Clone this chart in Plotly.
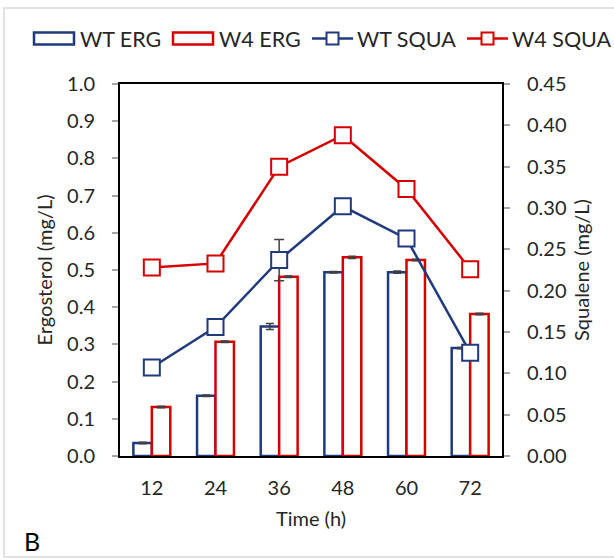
import plotly.graph_objects as go

# Sampling times (h)
times = ["12", "24", "36", "48", "60", "72"]

# Ergosterol titres (mg/L), left axis
wt_erg = [0.035, 0.162, 0.348, 0.494, 0.494, 0.290]
w4_erg = [0.132, 0.307, 0.482, 0.534, 0.527, 0.382]
wt_erg_err = [0.002, 0.002, 0.008, 0.002, 0.003, 0.002]
w4_erg_err = [0.002, 0.002, 0.002, 0.003, 0.002, 0.002]

# Squalene titres (mg/L), right axis
wt_squa = [0.107, 0.156, 0.237, 0.302, 0.263, 0.125]
w4_squa = [0.228, 0.233, 0.350, 0.388, 0.323, 0.226]
wt_squa_err = [0, 0, 0.025, 0, 0, 0]

left_ticks = [0.0, 0.1, 0.2, 0.3, 0.4, 0.5, 0.6, 0.7, 0.8, 0.9, 1.0]
right_ticks = [0.0, 0.05, 0.10, 0.15, 0.20, 0.25, 0.30, 0.35, 0.40, 0.45]

NAVY = "#1F3A7D"
RED = "#D60000"
ERR = "#404040"
FONT = "Lato"
TXT = "#262626"

# plot-area geometry in pixels, used to place the legend and frame in paper space
L, R, T, B = 120, 502, 84, 456


def px(x):
    return (x - L) / (R - L)


def py(y):
    return (B - y) / (B - T)


fig = go.Figure()

fig.add_trace(go.Bar(
    x=times, y=wt_erg, name="WT ERG",
    marker=dict(color="white", line=dict(color=NAVY, width=2.5)),
    error_y=dict(type="data", array=wt_erg_err, color=ERR, thickness=1.5, width=4),
))
fig.add_trace(go.Bar(
    x=times, y=w4_erg, name="W4 ERG",
    marker=dict(color="white", line=dict(color=RED, width=2.5)),
    error_y=dict(type="data", array=w4_erg_err, color=ERR, thickness=1.5, width=4),
))
fig.add_trace(go.Scatter(
    x=times, y=wt_squa, name="WT SQUA", yaxis="y2", mode="lines+markers",
    line=dict(color=NAVY, width=2.5),
    marker=dict(symbol="square", size=16, color="white", line=dict(color=NAVY, width=2)),
    error_y=dict(type="data", array=wt_squa_err, color=ERR, thickness=1.5, width=5),
))
fig.add_trace(go.Scatter(
    x=times, y=w4_squa, name="W4 SQUA", yaxis="y2", mode="lines+markers",
    line=dict(color=RED, width=2.5),
    marker=dict(symbol="square", size=16, color="white", line=dict(color=RED, width=2)),
))

fig.update_layout(
    width=614, height=560,
    margin=dict(l=L, r=614 - R, t=T, b=560 - B),
    paper_bgcolor="white", plot_bgcolor="white",
    font=dict(family=FONT, size=20, color=TXT),
    barmode="group", bargap=0.42, bargroupgap=0,
    showlegend=False,
    xaxis=dict(
        type="category", showline=True, linecolor="black", linewidth=2, mirror=True,
        ticks="", ticklabelstandoff=13,
        title=dict(text="Time (h)", standoff=14, font=dict(size=20)),
        showgrid=False,
    ),
    yaxis=dict(
        range=[0, 1.0], tickvals=left_ticks, tickformat=".1f",
        showline=True, linecolor="black", linewidth=2,
        ticks="outside", ticklen=6, tickcolor="#A6A6A6", tickwidth=1.5,
        ticklabelstandoff=13, showgrid=False, zeroline=False,
        title=dict(text="Ergosterol (mg/L)", standoff=9, font=dict(size=20)),
    ),
    yaxis2=dict(
        range=[0, 0.45], tickvals=right_ticks, tickformat=".2f",
        overlaying="y", side="right",
        showline=True, linecolor="black", linewidth=2,
        ticks="outside", ticklen=6, tickcolor="#A6A6A6", tickwidth=1.5,
        ticklabelstandoff=13, showgrid=False, zeroline=False,
        title=dict(text="Squalene (mg/L)", standoff=9, font=dict(size=20)),
    ),
)

# Legend row across the top
LEG_Y = 38.5
legend_font = dict(size=21.5, color=TXT, family=FONT)
for name, color, x0 in [("WT ERG", NAVY, 34), ("W4 ERG", RED, 173)]:
    fig.add_shape(type="rect", xref="paper", yref="paper",
                  x0=px(x0), x1=px(x0 + 40), y0=py(LEG_Y + 6), y1=py(LEG_Y - 6),
                  line=dict(color=color, width=2.5), fillcolor="white")
    fig.add_annotation(text=name, xref="paper", yref="paper", x=px(x0 + 44), y=py(LEG_Y),
                       xanchor="left", yanchor="middle", showarrow=False, font=legend_font)
for name, color, x0 in [("WT SQUA", NAVY, 312), ("W4 SQUA", RED, 467)]:
    fig.add_shape(type="line", xref="paper", yref="paper",
                  x0=px(x0), x1=px(x0 + 41), y0=py(LEG_Y), y1=py(LEG_Y),
                  line=dict(color=color, width=2.5))
    fig.add_shape(type="rect", xref="paper", yref="paper",
                  x0=px(x0 + 14.5), x1=px(x0 + 26.5), y0=py(LEG_Y + 6), y1=py(LEG_Y - 6),
                  line=dict(color=color, width=2), fillcolor="white")
    fig.add_annotation(text=name, xref="paper", yref="paper", x=px(x0 + 43), y=py(LEG_Y),
                       xanchor="left", yanchor="middle", showarrow=False, font=legend_font)

# Panel letter
fig.add_annotation(text="B", xref="paper", yref="paper", x=px(22), y=py(541),
                   xanchor="left", yanchor="middle", showarrow=False,
                   font=dict(size=25, color="black", family=FONT))

# Outer chart frame
fig.add_shape(type="rect", xref="paper", yref="paper",
              x0=px(4), x1=px(620), y0=py(557), y1=py(8),
              line=dict(color="#D9D9D9", width=1.5), layer="below")

fig.write_html("out.html")
